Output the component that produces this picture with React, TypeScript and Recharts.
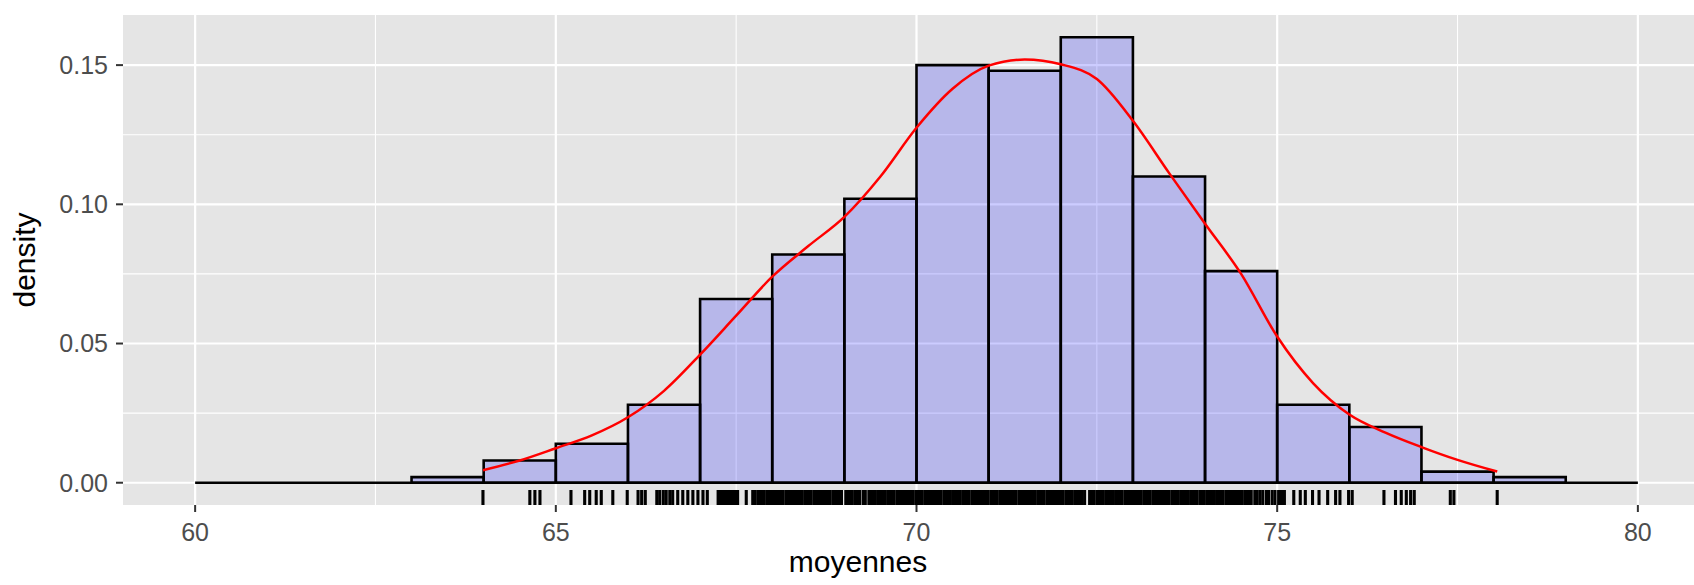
import React from "react";
import {
  ComposedChart,
  XAxis,
  YAxis,
  CartesianGrid,
  Line,
  Scatter,
  ReferenceArea,
  ReferenceLine,
  Label,
} from "recharts";

// histogram bins (width 1), density per bin
const binStarts = [63, 64, 65, 66, 67, 68, 69, 70, 71, 72, 73, 74, 75, 76, 77, 78];
const binDensity = [
  0.002, 0.008, 0.014, 0.028, 0.066, 0.082, 0.102, 0.15, 0.148, 0.16, 0.11,
  0.076, 0.028, 0.02, 0.004, 0.002,
];

// kernel density estimate
const curveX = [
  63.99, 64.5, 65, 65.5, 66, 66.5, 67, 67.5, 68, 68.5, 69, 69.5, 70, 70.5, 71,
  71.5, 72, 72.5, 73, 73.5, 74, 74.5, 75, 75.5, 76, 76.5, 77, 77.5, 78.05,
];
const curveY = [
  0.0045, 0.008, 0.0124, 0.017, 0.0235, 0.033, 0.046, 0.06, 0.074, 0.085,
  0.0955, 0.11, 0.1275, 0.1415, 0.1498, 0.152, 0.1503, 0.145, 0.13, 0.1113,
  0.093, 0.075, 0.0525, 0.0357, 0.0245, 0.018, 0.0128, 0.0082, 0.004,
];

// rug: observed means (the dense middle reads as a solid band)
const rugValues = [
  63.99, 64.64, 64.71, 64.78, 65.21, 65.4, 65.47, 65.56, 65.63, 65.79, 65.99,
  66.14, 66.19, 66.24, 66.4, 66.44, 66.49, 66.53, 66.58, 66.62, 66.69, 66.76,
  66.83, 66.9, 66.97, 67.04, 67.1, 67.25, 67.28, 67.31, 67.35, 67.38, 67.42,
  67.45, 67.49, 67.52, 67.64,
  67.73, 67.76, 67.8, 67.83, 67.86, 67.89, 67.93, 67.96, 67.99,
  68.02, 68.06, 68.09, 68.12, 68.15, 68.19, 68.22, 68.25, 68.28, 68.32, 68.35,
  68.38, 68.41, 68.45, 68.48, 68.51, 68.54, 68.58, 68.61, 68.64, 68.67, 68.71,
  68.74, 68.77, 68.8, 68.84, 68.87, 68.9, 68.93, 68.96,
  69.02, 69.05, 69.08, 69.11, 69.15, 69.18, 69.21, 69.26, 69.29, 69.34, 69.37,
  69.4, 69.43, 69.47, 69.5, 69.53, 69.56, 69.6, 69.63, 69.66, 69.69, 69.73,
  69.76, 69.79, 69.82, 69.86, 69.89, 69.92, 69.95, 69.99,
  70.02, 70.05, 70.08, 70.12, 70.15, 70.18, 70.21, 70.25, 70.28, 70.31, 70.34,
  70.38, 70.41, 70.44, 70.47, 70.51, 70.54, 70.57, 70.6, 70.64, 70.67, 70.7,
  70.73, 70.77, 70.8, 70.83, 70.86, 70.9, 70.93, 70.96, 70.99,
  71.03, 71.06, 71.09, 71.12, 71.16, 71.19, 71.22, 71.25, 71.29, 71.32, 71.35,
  71.38, 71.42, 71.45, 71.48, 71.51, 71.55, 71.58, 71.61, 71.64, 71.68, 71.71,
  71.74, 71.77, 71.81, 71.84, 71.87, 71.9, 71.94, 71.97,
  72.0, 72.03, 72.07, 72.1, 72.13, 72.16, 72.2, 72.23, 72.26, 72.29, 72.33,
  72.4, 72.43, 72.46, 72.5, 72.53, 72.56, 72.59, 72.63, 72.66, 72.69, 72.72,
  72.76, 72.79, 72.82, 72.85, 72.89, 72.92, 72.95, 72.98,
  73.02, 73.05, 73.08, 73.11, 73.15, 73.18, 73.21, 73.24, 73.28, 73.31, 73.34,
  73.37, 73.41, 73.44, 73.47, 73.5, 73.54, 73.57, 73.6, 73.63, 73.67, 73.7,
  73.73, 73.76, 73.8, 73.83, 73.86, 73.89, 73.93, 73.96, 73.99,
  74.03, 74.06, 74.09, 74.12, 74.16, 74.19, 74.22, 74.25, 74.29, 74.32, 74.35,
  74.38, 74.42, 74.45, 74.48, 74.51, 74.55, 74.58, 74.61, 74.64,
  74.69, 74.72, 74.76, 74.8, 74.85, 74.88, 74.93, 74.97, 75.02, 75.06, 75.1,
  75.23, 75.32, 75.39, 75.49, 75.58, 75.7, 75.81, 75.87, 75.99, 76.04, 76.48,
  76.64, 76.72, 76.79, 76.85, 76.9, 77.4, 77.45, 78.05,
];

const xTicks = [60, 65, 70, 75, 80];
const xMinor = [62.5, 67.5, 72.5, 77.5];
const yTicks = [0, 0.05, 0.1, 0.15];
const yMinor = [0.025, 0.075, 0.125];

const X_DOMAIN: [number, number] = [59, 81];
const Y_DOMAIN: [number, number] = [-0.008, 0.168];

const curveData = curveX.map((x, i) => ({ x, y: curveY[i] }));
const rugData = rugValues.map((x) => ({ x, y: Y_DOMAIN[0] }));

const FONT = "'Liberation Sans', Arial, Helvetica, sans-serif";
const tickStyle = { fill: "#4D4D4D", fontSize: 25, fontFamily: FONT };

const RugTick = (props: any) => {
  const { cx, cy } = props;
  return (
    <line x1={cx} x2={cx} y1={cy} y2={cy - 15} stroke="#000000" strokeWidth={3.1} />
  );
};

const App: React.FC = () => {
  return (
    <div
      style={{
        position: "absolute",
        left: 0,
        top: 0,
        width: 1694,
        height: 585,
        overflow: "hidden",
        background: "#ffffff",
      }}
    >
      <ComposedChart
        width={1710}
        height={585}
        margin={{ top: 15, right: 0, bottom: 0, left: 0 }}
      >
        {/* panel background + minor grid */}
        <CartesianGrid
          fill="#E5E5E5"
          stroke="#FFFFFF"
          strokeWidth={1.1}
          verticalValues={xMinor}
          horizontalValues={yMinor}
        />
        {/* major grid */}
        <CartesianGrid
          stroke="#FFFFFF"
          strokeWidth={2.2}
          verticalValues={xTicks}
          horizontalValues={yTicks}
        />
        <XAxis
          type="number"
          dataKey="x"
          domain={X_DOMAIN}
          ticks={xTicks}
          allowDataOverflow
          axisLine={false}
          tickSize={7}
          tickMargin={11}
          tickLine={{ stroke: "#333333", strokeWidth: 2 }}
          tick={tickStyle}
          height={80}
        >
          <Label
            content={(p: any) => (
              <text
                x={p.viewBox.x + 735}
                y={p.viewBox.y + 67}
                textAnchor="middle"
                fontSize={30}
                fontFamily={FONT}
                fill="#000000"
              >
                moyennes
              </text>
            )}
          />
        </XAxis>
        <YAxis
          type="number"
          domain={Y_DOMAIN}
          ticks={yTicks}
          allowDataOverflow
          axisLine={false}
          tickSize={7}
          tickMargin={8}
          tickLine={{ stroke: "#333333", strokeWidth: 2 }}
          tick={tickStyle}
          tickFormatter={(v: number) => v.toFixed(2)}
          width={123}
        >
          <Label
            content={(p: any) => {
              const cx = 35;
              const cy = p.viewBox.y + p.viewBox.height / 2;
              return (
                <text
                  x={cx}
                  y={cy}
                  transform={`rotate(-90, ${cx}, ${cy})`}
                  textAnchor="middle"
                  fontSize={30}
                  fontFamily={FONT}
                  fill="#000000"
                >
                  density
                </text>
              );
            }}
          />
        </YAxis>

        {binStarts.map((b, i) => (
          <ReferenceArea
            key={`bin${b}`}
            x1={b}
            x2={b + 1}
            y1={0}
            y2={binDensity[i]}
            fill="#0000FF"
            fillOpacity={0.2}
            stroke="#000000"
            strokeWidth={2.6}
            strokeOpacity={1}
          />
        ))}
        <ReferenceLine
          segment={[
            { x: xTicks[0], y: 0 },
            { x: xTicks[xTicks.length - 1], y: 0 },
          ]}
          stroke="#000000"
          strokeWidth={2.6}
        />

        <Line
          data={curveData}
          dataKey="y"
          type="monotone"
          stroke="#FF0000"
          strokeWidth={2.5}
          dot={false}
          activeDot={false}
          isAnimationActive={false}
        />
        <Scatter
          data={rugData}
          dataKey="y"
          shape={RugTick}
          isAnimationActive={false}
        />
      </ComposedChart>
    </div>
  );
};

export default App;
